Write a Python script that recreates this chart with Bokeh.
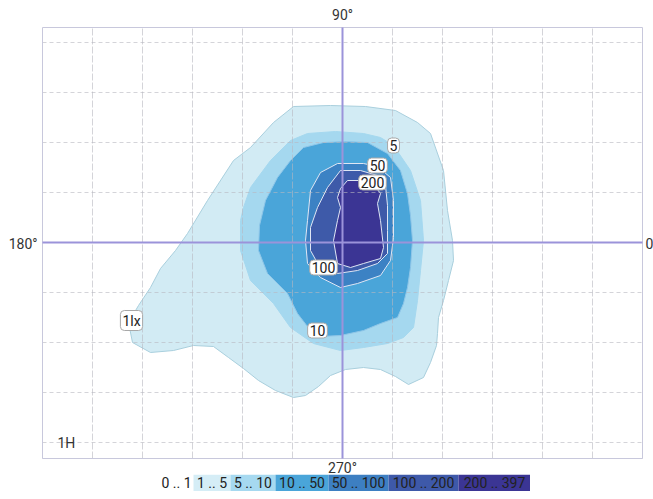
from bokeh.plotting import figure
from bokeh.models import Range1d, ColumnDataSource, Spacer
from bokeh.layouts import column, row
from bokeh.core.properties import value
from bokeh.embed import file_html
from bokeh.resources import INLINE

# ---------------- data (metres on the isolux grid) ----------------
lx1_x = [-0.98, -0.24, 0.46, 1.06, 1.50, 1.76, 2.02, 2.10, 2.20, 2.22, 2.12, 2.02, 1.92, 1.90, 1.88,
         1.76, 1.62, 1.32, 1.06, 0.76, 0.42, 0.06, -0.24, -0.48, -0.74, -0.98, -1.34, -1.68, -1.98,
         -2.28, -2.58, -2.98, -3.38, -3.84, -4.20, -4.28, -4.08, -3.84, -3.64, -3.34, -3.10, -2.70,
         -2.18, -1.84, -1.38]
lx1_y = [2.72, 2.74, 2.72, 2.64, 2.40, 2.18, 1.44, 0.64, 0.04, -0.36, -0.76, -1.16, -1.50, -1.82, -2.06,
         -2.40, -2.70, -2.84, -2.68, -2.54, -2.50, -2.54, -2.66, -2.88, -3.06, -3.10, -2.96, -2.76, -2.52,
         -2.30, -2.08, -2.06, -2.16, -2.20, -2.00, -1.60, -1.26, -0.90, -0.52, -0.16, 0.18, 0.84,
         1.64, 1.90, 2.40]

lx5_x = [-0.70, -0.14, 0.42, 0.76, 1.02, 1.36, 1.56, 1.62, 1.56, 1.50, 1.42, 1.22, 0.90, 0.42, -0.04,
         -0.58, -1.04, -1.38, -1.84, -2.04, -2.04, -1.98, -1.84, -1.44, -1.04]
lx5_y = [2.18, 2.22, 2.18, 2.10, 1.94, 1.44, 0.84, 0.04, -0.56, -1.16, -1.70, -1.90, -2.02, -2.10, -2.16,
         -2.02, -1.70, -1.22, -0.76, -0.16, 0.44, 0.70, 1.10, 1.64, 2.04]

lx10_x = [-0.38, 0.06, 0.50, 0.90, 1.16, 1.30, 1.36, 1.40, 1.36, 1.30, 1.22, 1.10, 0.76, 0.42, -0.04,
          -0.44, -0.64, -0.90, -1.10, -1.50, -1.68, -1.66, -1.54, -1.30, -1.04, -0.78]
lx10_y = [2.00, 2.02, 2.00, 1.78, 1.44, 0.98, 0.54, 0.04, -0.50, -0.90, -1.22, -1.50, -1.62, -1.76, -1.86,
          -1.88, -1.76, -1.42, -1.02, -0.62, -0.16, 0.34, 0.84, 1.30, 1.64, 1.90]

lx50_x = [-0.10, 0.42, 0.70, 0.96, 1.02, 1.02, 0.96, 0.76, 0.30, -0.04, -0.44, -0.70, -0.74, -0.70, -0.64, -0.44]
lx50_y = [1.58, 1.58, 1.52, 1.30, 0.84, 0.10, -0.36, -0.66, -0.82, -0.90, -0.70, -0.42, 0.04, 0.44, 1.04, 1.40]

lx100_x = [-0.04, 0.36, 0.70, 0.86, 0.90, 0.90, 0.90, 0.70, 0.30, -0.10, -0.44, -0.64, -0.64, -0.50, -0.30]
lx100_y = [1.44, 1.44, 1.34, 1.14, 0.74, 0.24, -0.22, -0.42, -0.56, -0.62, -0.52, -0.16, 0.30, 0.70, 1.10]

lx200_x = [0.10, 0.42, 0.62, 0.76, 0.70, 0.76, 0.82, 0.76, 0.42, 0.16, -0.10, -0.18, -0.10, -0.04, -0.10, -0.04]
lx200_y = [1.24, 1.24, 1.16, 0.98, 0.78, 0.44, -0.10, -0.32, -0.42, -0.50, -0.42, 0.04, 0.44, 0.70, 0.90, 1.08]

level_fill = ["#d2ebf4", "#a5d8ef", "#4aa5d9", "#3c82c4", "#3e5aa9", "#3b3594"]
level_line = ["#a9cfdd", "#a5d8ef", "#8fc6e8", "#dfe6f4", "#dfe6f4", "#dfe6f4"]

label_text = ["1lx", "5", "50", "200", "100", "10"]
label_x = [-4.22, 1.02, 0.70, 0.60, -0.38, -0.50]
label_y = [-1.56, 1.94, 1.54, 1.20, -0.50, -1.76]

legend_labels = ["0 .. 1", "1 .. 5", "5 .. 10", "10 .. 50", "50 .. 100", "100 .. 200", "200 .. 397"]
legend_colors = ["#ffffff", "#d5edf6", "#a6d9f0", "#4aa5d9", "#3d7fc2", "#3e59a9", "#3b3594"]

grid_x_ticks = [-6, -5, -4, -3, -2, -1, 0, 1, 2, 3, 4, 5, 6]
grid_y_ticks = [-4, -3, -2, -1, 0, 1, 2, 3, 4]

# extent of the drawn diagram box (metres)
X_MIN, X_MAX = -6.0, 6.0
Y_MIN, Y_MAX = -4.32, 4.30

FONT = value("Roboto")

# ---------------- main isolux plot ----------------
# the frame covers the whole canvas so that the angle captions around the box can be drawn
p = figure(width=653, height=474, x_range=Range1d(-6.84, 6.22), y_range=Range1d(-4.64, 4.84),
           output_backend="svg", toolbar_location=None,
           x_axis_location=None, y_axis_location=None, min_border=0)
p.outline_line_color = None
p.grid.visible = False
p.background_fill_color = "white"
p.border_fill_color = "white"

src = ColumnDataSource(dict(
    xs=[lx1_x, lx5_x, lx10_x, lx50_x, lx100_x, lx200_x],
    ys=[lx1_y, lx5_y, lx10_y, lx50_y, lx100_y, lx200_y],
    fill=level_fill, line=level_line))
p.patches("xs", "ys", source=src, fill_color="fill", line_color="line", line_width=1)

# grid
p.segment(x0=grid_x_ticks, y0=Y_MIN, x1=grid_x_ticks, y1=Y_MAX,
          line_color="#b8b8c0", line_alpha=0.6, line_dash="7 2", line_width=1)
p.segment(x0=X_MIN, y0=grid_y_ticks, x1=X_MAX, y1=grid_y_ticks,
          line_color="#b8b8c0", line_alpha=0.6, line_dash="4 3", line_width=1)

# box
p.quad(left=X_MIN, right=X_MAX, bottom=Y_MIN, top=Y_MAX, fill_color=None,
       line_color="#c8c8dc", line_width=1)

# axes through the origin
p.segment(x0=[X_MIN, 0], y0=[0, Y_MIN], x1=[X_MAX, 0], y1=[0, Y_MAX],
          line_color="#9b93da", line_width=2)

# contour labels
lsrc = ColumnDataSource(dict(x=label_x, y=label_y, t=label_text))
p.text(x="x", y="y", text="t", source=lsrc, text_font=FONT, text_font_size="14px",
       text_color="#222222", text_align="center", text_baseline="middle",
       background_fill_color="white", border_line_color="#a8a8a8",
       padding=2, border_radius=4)

# angle captions and height
cap_kw = dict(text_font=FONT, text_font_size="14px", text_color="#333333")
p.text(x=[0], y=[Y_MAX + 0.10], text=["90°"], text_align="center", text_baseline="bottom", **cap_kw)
p.text(x=[0], y=[Y_MIN - 0.02], text=["270°"], text_align="center", text_baseline="top", **cap_kw)
p.text(x=[X_MIN - 0.10], y=[-0.02], text=["180°"], text_align="right", text_baseline="middle", **cap_kw)
p.text(x=[X_MAX + 0.06], y=[-0.02], text=["0°"], text_align="left", text_baseline="middle", **cap_kw)
p.text(x=[-5.7], y=[-4.0], text=["1H"], text_align="left", text_baseline="middle", **cap_kw)

# ---------------- colour legend strip ----------------
legend_widths = [34, 37, 45, 53, 60, 70, 72]
edges = [0]
for w in legend_widths:
    edges.append(edges[-1] + w)
lefts = edges[:-1]
rights = edges[1:]
centers = [(a + b) / 2 for a, b in zip(lefts, rights)]

leg = figure(width=edges[-1], height=17, x_range=Range1d(0, edges[-1]), y_range=Range1d(0, 1),
             output_backend="svg", toolbar_location=None,
             x_axis_location=None, y_axis_location=None, min_border=0)
leg.outline_line_color = None
leg.grid.visible = False
legsrc = ColumnDataSource(dict(l=lefts, r=rights, c=centers, col=legend_colors, t=legend_labels))
leg.quad(left="l", right="r", bottom=0, top=1, source=legsrc, fill_color="col", line_color=None)
leg.text(x="c", y=0.5, text="t", source=legsrc, text_font=FONT, text_font_size="14px",
         text_color="#222222", text_align="center", text_baseline="middle")

layout = column(p, row(Spacer(width=159, height=17), leg))
open("out.html", "w").write(file_html(layout, INLINE))
